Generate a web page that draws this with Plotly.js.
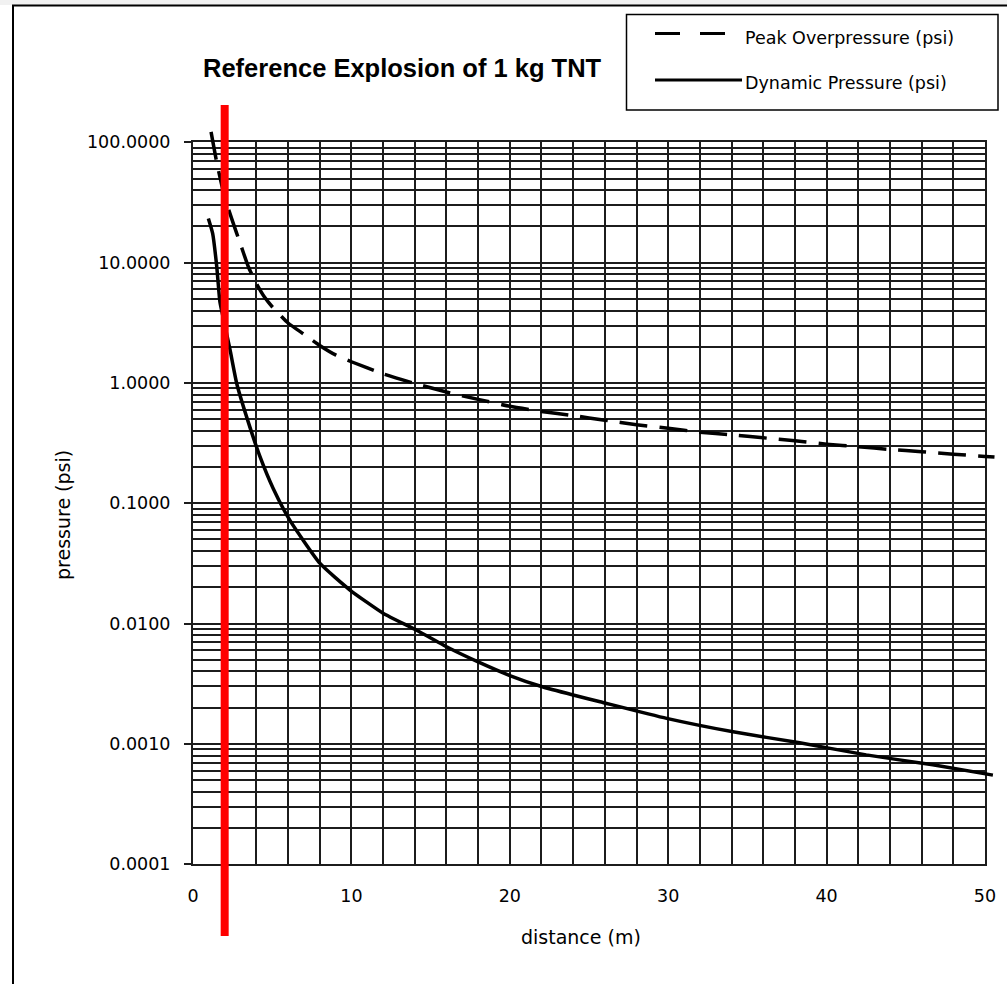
<!DOCTYPE html>
<html>
<head>
<meta charset="utf-8">
<script src="https://cdn.plot.ly/plotly-3.0.1.min.js"></script>
<style>
  html, body { margin: 0; padding: 0; background: #ffffff; }
  #chart { width: 1007px; height: 984px; }
</style>
</head>
<body>
<div id="chart"></div>
<script>
// ---------------- data ----------------
const chartTitle = 'Reference Explosion of 1 kg TNT';
const xAxisTitle = 'distance (m)';
const yAxisTitle = 'pressure (psi)';
const seriesNames = ['Peak Overpressure (psi)', 'Dynamic Pressure (psi)'];

const distanceOver = [1.14, 1.5, 2, 2.5, 3, 3.5, 4, 4.5, 5, 6, 7, 8, 9, 10, 12, 14, 16, 18, 20,
                      22, 24, 26, 28, 30, 32, 34, 36, 38, 40, 42, 44, 46, 48, 50, 50.6];
const peakOverpressure = [122, 68, 35, 22, 14.2, 9.2, 6.7, 5.2, 4.3, 3.15, 2.54, 2.05, 1.71, 1.50,
                          1.19, 0.99, 0.84, 0.73, 0.64, 0.58, 0.535, 0.49, 0.45, 0.42, 0.39, 0.37,
                          0.35, 0.33, 0.31, 0.295, 0.28, 0.268, 0.256, 0.245, 0.242];

const distanceDyn = [0.97, 1.24, 1.5, 1.7, 2.0, 2.34, 2.76, 3.39, 4.23, 5.07, 6.12, 8.02, 9.91, 12,
                     14.12, 16.22, 18, 20, 22, 24, 25.7, 29.9, 34.1, 38.3, 42.5, 46.7, 50.5];
const dynamicPressure = [23.3, 17.5, 9.25, 4.7, 3.07, 1.88, 0.99, 0.52, 0.244, 0.132, 0.072, 0.0316,
                         0.019, 0.0122, 0.0088, 0.0062, 0.0048, 0.0037, 0.0030, 0.00255, 0.00224,
                         0.00163, 0.00126, 0.00102, 0.00081, 0.00067, 0.00055];

const markerDistance = [2];   // red vertical marker line (m)

const xTickVals = [0, 10, 20, 30, 40, 50];
const xTickLabels = ['0', '10', '20', '30', '40', '50'];
const yTickVals = [0.0001, 0.001, 0.01, 0.1, 1, 10, 100];
const yTickLabels = ['0.0001', '0.0010', '0.0100', '0.1000', '1.0000', '10.0000', '100.0000'];

// ---------------- layout helpers (pixel -> paper) ----------------
const W = 1007, H = 984;
const px = v => v / W;
const py = v => 1 - v / H;
const plotL = 193, plotR = 985, plotT = 142.3, plotB = 864.2;
const extR = 16, extT = 26;
const pxPerX = (plotR - plotL) / 50;
const pxPerDec = (plotB - plotT) / 6;

const font = { family: 'DejaVu Sans', size: 17.5, color: '#000000' };
const gridCol = '#1c1c1c';

const traces = [
  {
    x: distanceOver, y: peakOverpressure, name: seriesNames[0],
    xaxis: 'x2', yaxis: 'y2', mode: 'lines',
    line: { color: '#000000', width: 3.5, dash: '28px,12px', shape: 'spline', smoothing: 0.5 },
    hoverinfo: 'x+y'
  },
  {
    x: distanceDyn, y: dynamicPressure, name: seriesNames[1],
    xaxis: 'x2', yaxis: 'y2', mode: 'lines',
    line: { color: '#000000', width: 3.5, shape: 'spline', smoothing: 0.5 },
    hoverinfo: 'x+y'
  }
];

const layout = {
  width: W, height: H,
  margin: { l: 0, r: 0, t: 0, b: 0, pad: 0 },
  paper_bgcolor: '#ffffff',
  plot_bgcolor: 'rgba(0,0,0,0)',
  showlegend: false,
  font: font,
  xaxis: {
    domain: [px(plotL), px(plotR)], range: [0, 50], anchor: 'y',
    tickmode: 'array', tickvals: xTickVals, ticktext: xTickLabels,
    ticks: '', showgrid: true, gridcolor: gridCol, gridwidth: 2,
    showline: true, linecolor: gridCol, linewidth: 2, mirror: true,
    zeroline: false, tickfont: font, ticklabelstandoff: 15,
    minor: { tickmode: 'linear', tick0: 0, dtick: 2, showgrid: true, gridcolor: gridCol, gridwidth: 2, ticks: '' },
    fixedrange: true
  },
  yaxis: {
    domain: [py(plotB), py(plotT)], type: 'log', range: [-4, 2], anchor: 'x',
    tickmode: 'array', tickvals: yTickVals, ticktext: yTickLabels,
    ticks: 'outside', ticklen: 7, tickwidth: 2, tickcolor: gridCol,
    showgrid: true, gridcolor: gridCol, gridwidth: 2,
    showline: true, linecolor: gridCol, linewidth: 2, mirror: true,
    zeroline: false, tickfont: font, ticklabelstandoff: 10,
    minor: { tickmode: 'linear', dtick: 'D1', showgrid: true, gridcolor: gridCol, gridwidth: 2, ticks: '' },
    fixedrange: true
  },
  xaxis2: {
    domain: [px(plotL), px(plotR + extR)], range: [0, 50 + extR / pxPerX], anchor: 'y2',
    visible: false, showgrid: false, zeroline: false, fixedrange: true
  },
  yaxis2: {
    domain: [py(plotB), py(plotT - extT)], type: 'log', range: [-4, 2 + extT / pxPerDec], anchor: 'x2',
    visible: false, showgrid: false, zeroline: false, fixedrange: true
  },
  shapes: [
    // light grey strip above the frame
    { type: 'rect', xref: 'paper', yref: 'paper', x0: 0, x1: 1, y0: py(5), y1: 1,
      line: { width: 0 }, fillcolor: '#f1f1f1', layer: 'below' },
    // outer frame
    { type: 'rect', xref: 'paper', yref: 'paper', x0: px(13), x1: px(1012), y0: py(990), y1: py(5.5),
      line: { color: '#000000', width: 2 }, fillcolor: 'rgba(0,0,0,0)' },
    // legend box
    { type: 'rect', xref: 'paper', yref: 'paper', x0: px(626.5), x1: px(998), y0: py(110), y1: py(14.5),
      line: { color: '#000000', width: 1.5 }, fillcolor: '#ffffff' },
    { type: 'line', xref: 'paper', yref: 'paper', x0: px(655), x1: px(727), y0: py(33.5), y1: py(33.5),
      line: { color: '#000000', width: 3, dash: '25px,20px' } },
    { type: 'line', xref: 'paper', yref: 'paper', x0: px(655), x1: px(742), y0: py(80), y1: py(80),
      line: { color: '#000000', width: 3 } },
    // red marker line
    { type: 'line', xref: 'x', yref: 'paper', x0: markerDistance[0], x1: markerDistance[0],
      y0: py(936), y1: py(105), line: { color: '#ff0000', width: 8 } }
  ],
  annotations: [
    { text: chartTitle, xref: 'paper', yref: 'paper', x: px(402.5), y: py(68), xanchor: 'center', yanchor: 'middle',
      showarrow: false, font: { family: 'Liberation Sans', size: 25.5, color: '#000000', weight: 'bold' } },
    { text: seriesNames[0], xref: 'paper', yref: 'paper', x: px(743), y: py(38), xanchor: 'left', yanchor: 'middle',
      showarrow: false, font: font },
    { text: seriesNames[1], xref: 'paper', yref: 'paper', x: px(743), y: py(83), xanchor: 'left', yanchor: 'middle',
      showarrow: false, font: font },
    { text: xAxisTitle, xref: 'paper', yref: 'paper', x: px(580.5), y: py(937), xanchor: 'center', yanchor: 'middle',
      showarrow: false, font: { family: 'DejaVu Sans', size: 19, color: '#000000' } },
    { text: yAxisTitle, xref: 'paper', yref: 'paper', x: px(63), y: py(515), xanchor: 'center', yanchor: 'middle',
      textangle: -90, showarrow: false, font: { family: 'DejaVu Sans', size: 19, color: '#000000' } }
  ]
};

Plotly.newPlot('chart', traces, layout, { staticPlot: true, displayModeBar: false });
</script>
</body>
</html>
